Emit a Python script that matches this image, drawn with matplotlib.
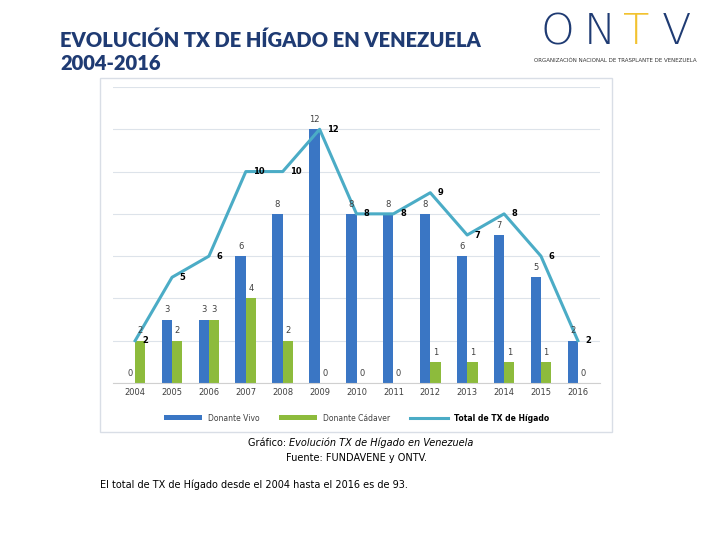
import matplotlib.pyplot as plt
import numpy as np
from matplotlib.patches import Rectangle

years = ['2004', '2005', '2006', '2007', '2008', '2009', '2010', '2011', '2012', '2013', '2014', '2015', '2016']
vivo = [0, 3, 3, 6, 8, 12, 8, 8, 8, 6, 7, 5, 2]
cadaver = [2, 2, 3, 4, 2, 0, 0, 0, 1, 1, 1, 1, 0]
total = [2, 5, 6, 10, 10, 12, 8, 8, 9, 7, 8, 6, 2]

W, H = 712, 546
fig = plt.figure(figsize=(W / 100, H / 100), dpi=100)

# marco del gráfico
fig.patches.append(Rectangle((100 / W, 1 - 432 / H), 512 / W, 354 / H, transform=fig.transFigure,
                             fill=False, edgecolor='#d9dee6', linewidth=1))

ax = fig.add_axes([113 / W, 1 - 383 / H, 487 / W, 296 / H])
x = np.arange(len(years))
w = 0.28
b1 = ax.bar(x - w / 2, vivo, w, color='#3a76c4', label='Donante Vivo', zorder=2)
b2 = ax.bar(x + w / 2, cadaver, w, color='#8dbb3c', label='Donante Cádaver', zorder=2)
ln, = ax.plot(x, total, color='#4bacc6', linewidth=2.2, label='Total de TX de Hígado', zorder=3)

for i in range(len(years)):
    ax.text(x[i] - w / 2, vivo[i] + 0.25, str(vivo[i]), ha='center', va='bottom', fontsize=6, color='#404040')
    ax.text(x[i] + w / 2, cadaver[i] + 0.25, str(cadaver[i]), ha='center', va='bottom', fontsize=6, color='#404040')
    ax.text(x[i] + 0.2, total[i], str(total[i]), ha='left', va='center', fontsize=6, fontweight='bold', color='black', zorder=4)

ax.set_ylim(0, 14)
ax.set_xlim(-0.6, len(years) - 0.4)
ax.set_yticks(np.arange(0, 15, 2))
ax.set_yticklabels([])
ax.tick_params(axis='y', length=0)
ax.tick_params(axis='x', length=0, labelsize=6, colors='#404040')
ax.set_xticks(x)
ax.set_xticklabels(years)
ax.grid(axis='y', color='#dde3ea', linewidth=0.8, zorder=0)
for s in ['top', 'right', 'left']:
    ax.spines[s].set_visible(False)
ax.spines['bottom'].set_color('#d0d0d0')

leg = ax.legend([b1, b2, ln], ['Donante Vivo', 'Donante Cádaver', 'Total de TX de Hígado'],
                loc='upper center', bbox_to_anchor=(0.5, -0.08), ncol=3, frameon=False, fontsize=5.5,
                handlelength=5, handleheight=0.6, columnspacing=2.5)
for t in leg.get_texts():
    t.set_color('#404040')
leg.get_texts()[2].set_fontweight('bold')
leg.get_texts()[2].set_color('black')

fig.text(60 / W, 1 - 40 / H, 'EVOLUCIÓN TX DE HÍGADO EN VENEZUELA', fontsize=14.5, fontweight='heavy',
         color='#1f3b73', va='center', family='Lato')
fig.text(60 / W, 1 - 64 / H, '2004-2016', fontsize=14.5, fontweight='heavy', color='#1f3b73', va='center', family='Lato')

for letter, cx, col in [('O', 557, '#1f3b73'), ('N', 600, '#1f3b73'), ('T', 636, '#f2c230'), ('V', 676, '#1f3b73')]:
    fig.text(cx / W, 1 - 32 / H, letter, fontsize=31, color=col, va='center', ha='center', fontweight='light')
fig.text(615 / W, 1 - 61 / H, 'ORGANIZACIÓN NACIONAL DE TRASPLANTE DE VENEZUELA', fontsize=4, color='#333333',
         ha='center', va='center')

fig.text(289 / W, 1 - 443 / H, 'Gráfico: ', fontsize=7, ha='right', va='center')
fig.text(289 / W, 1 - 443 / H, 'Evolución TX de Hígado en Venezuela', fontsize=7, style='italic', ha='left', va='center')
fig.text(356 / W, 1 - 458 / H, 'Fuente: FUNDAVENE y ONTV.', fontsize=7, ha='center', va='center')
fig.text(100 / W, 1 - 485 / H, 'El total de TX de Hígado desde el 2004 hasta el 2016 es de 93.', fontsize=7, va='center')

fig.savefig('out.png', dpi=100)
